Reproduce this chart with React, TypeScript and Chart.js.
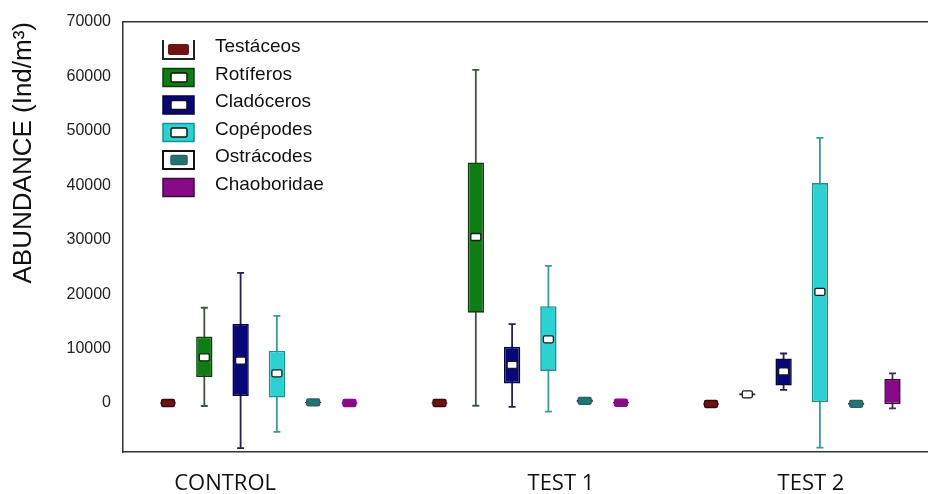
import React, { useEffect, useRef } from 'react';
import { Chart, registerables } from 'chart.js';

Chart.register(...registerables);

// ---------- data ----------
const GROUPS = ['CONTROL', 'TEST 1', 'TEST 2'];
const SERIES = ['Testáceos', 'Rotíferos', 'Cladóceros', 'Copépodes', 'Ostrácodes', 'Chaoboridae'];

// each row: [min, q1, median, q3, max] for CONTROL, TEST 1, TEST 2
const TESTACEOS = [[-300, -150, 0, 150, 300], [-300, -150, 0, 150, 300], [-450, -320, -180, -60, 80]];
const ROTIFEROS = [[-550, 4800, 8400, 12200, 17500], [-500, 16600, 30500, 44200, 61200], [1100, 1400, 1600, 1800, 2100]];
const CLADOCEROS = [[-8300, 1300, 7800, 14500, 23900], [-700, 3600, 7000, 10350, 14500], [2400, 3200, 5800, 8200, 9100]];
const COPEPODES = [[-5300, 1000, 5450, 9600, 16000], [-1600, 5900, 11700, 17800, 25200], [-8200, 150, 20400, 40400, 48700]];
const OSTRACODES = [[-200, -50, 100, 250, 400], [-100, 150, 400, 650, 900], [-450, -300, -150, 0, 150]];
const CHAOBORIDAE = [[-300, -150, 0, 150, 300], [-250, -100, 50, 200, 350], [-1000, -200, 1500, 4400, 5450]];
const STATS = [TESTACEOS, ROTIFEROS, CLADOCEROS, COPEPODES, OSTRACODES, CHAOBORIDAE];

const Y_MIN = -9000;
const Y_MAX = 70000;
const Y_TICKS = [0, 10000, 20000, 30000, 40000, 50000, 60000, 70000];
const Y_TITLE = 'ABUNDANCE (Ind/m³)';

// ---------- layout / style ----------
const LABEL_POS = [-0.124, 1.113, 2.034];
const BOX_FILL = ['#ffffff', '#0d7d14', '#07077a', '#2cd2d2', '#ffffff', '#870a87'];
const BOX_EDGE = ['#2a2a2a', '#123d14', '#05053d', '#1c8f8f', '#222222', '#3d0a3d'];
const WHISKER = ['#3a2a2a', '#3e553e', '#23234d', '#3a9b9b', '#2a4a4a', '#4a2a4a'];
const MEDIAN_FILL = ['#6e1214', '#ffffff', '#ffffff', '#ffffff', '#1f7474', '#870a87'];
const MEDIAN_EDGE = ['#3a0a0a', '#1a1a1a', '#1a1a1a', '#1a1a1a', '#2f5f5f', '#870a87'];
const MEDIAN_W = [13, 10, 10, 10, 13, 13];
const MEDIAN_H = 7;
const SANS = '"Liberation Sans", Arial, sans-serif';

const whiskerPlugin = {
  id: 'boxWhiskers',
  beforeDatasetsDraw(chart: any) {
    const ctx = chart.ctx;
    const ys = chart.scales.y;
    chart.data.datasets.forEach((_ds: any, i: number) => {
      const meta = chart.getDatasetMeta(i);
      meta.data.forEach((bar: any, j: number) => {
        const st = STATS[i][j];
        const x = bar.x;
        const y0 = ys.getPixelForValue(st[0]);
        const y1 = ys.getPixelForValue(st[4]);
        ctx.save();
        ctx.strokeStyle = WHISKER[i];
        ctx.lineWidth = 1.8;
        ctx.beginPath();
        ctx.moveTo(x, y0);
        ctx.lineTo(x, y1);
        ctx.moveTo(x - 3.5, y0);
        ctx.lineTo(x + 3.5, y0);
        ctx.moveTo(x - 3.5, y1);
        ctx.lineTo(x + 3.5, y1);
        ctx.stroke();
        ctx.restore();
      });
    });
  },
  afterDatasetsDraw(chart: any) {
    const ctx = chart.ctx;
    const ys = chart.scales.y;
    chart.data.datasets.forEach((_ds: any, i: number) => {
      const meta = chart.getDatasetMeta(i);
      meta.data.forEach((bar: any, j: number) => {
        const st = STATS[i][j];
        const x = bar.x;
        const ym = ys.getPixelForValue(st[2]);
        const w = MEDIAN_W[i];
        ctx.save();
        ctx.fillStyle = MEDIAN_FILL[i];
        ctx.strokeStyle = MEDIAN_EDGE[i];
        ctx.lineWidth = 1.3;
        ctx.beginPath();
        ctx.roundRect(x - w / 2, ym - MEDIAN_H / 2, w, MEDIAN_H, 1.5);
        ctx.fill();
        ctx.stroke();
        ctx.restore();
      });
    });
  },
};

const legendPlugin = {
  id: 'boxLegend',
  afterDraw(chart: any) {
    const { ctx, chartArea } = chart;
    const x0 = chartArea.left + 39;
    const yStart = chartArea.top + 28;
    const pitch = 27.5;
    const w = 33;
    const h = 20;
    chart.data.datasets.forEach((ds: any, i: number) => {
      const cy = yStart + i * pitch;
      const top = cy - h / 2;
      ctx.save();
      if (i === 0) {
        ctx.strokeStyle = '#222';
        ctx.lineWidth = 2;
        ctx.beginPath();
        ctx.moveTo(x0 + 1, top);
        ctx.lineTo(x0 + 1, top + h - 1);
        ctx.lineTo(x0 + w - 1, top + h - 1);
        ctx.lineTo(x0 + w - 1, top);
        ctx.stroke();
        ctx.fillStyle = MEDIAN_FILL[0];
        ctx.beginPath();
        ctx.roundRect(x0 + 6, top + 4, 21, 11, 2);
        ctx.fill();
      } else {
        ctx.fillStyle = BOX_FILL[i];
        ctx.strokeStyle = i === 4 ? '#111' : BOX_EDGE[i];
        ctx.lineWidth = i === 4 ? 2 : 1.5;
        ctx.beginPath();
        ctx.rect(x0 + 1, top + 1, w - 2, h - 2);
        ctx.fill();
        ctx.stroke();
        if (i !== 5) {
          ctx.fillStyle = MEDIAN_FILL[i];
          ctx.strokeStyle = i === 4 ? '#2f5f5f' : '#111';
          ctx.lineWidth = 1.5;
          ctx.beginPath();
          ctx.roundRect(x0 + 9, cy - 4.5, 16, 9, 1.5);
          ctx.fill();
          ctx.stroke();
        }
      }
      ctx.fillStyle = '#111';
      ctx.font = '19px ' + SANS;
      ctx.textAlign = 'left';
      ctx.textBaseline = 'middle';
      ctx.fillText(ds.label, chartArea.left + 92, cy - 3);
      ctx.restore();
    });
  },
};

export default function App() {
  const ref = useRef<HTMLCanvasElement | null>(null);

  useEffect(() => {
    if (!ref.current) return;
    const chart = new Chart(ref.current, {
      type: 'bar',
      data: {
        labels: GROUPS,
        datasets: SERIES.map((name, i) => ({
          label: name,
          xAxisID: 'x',
          yAxisID: 'y',
          data: STATS[i].map((s) => [s[1], s[3]]),
          backgroundColor: BOX_FILL[i],
          borderColor: BOX_EDGE[i],
          borderWidth: 1.6,
          borderSkipped: false,
          categoryPercentage: 0.802,
          barPercentage: 0.45,
        })) as any,
      },
      options: {
        responsive: false,
        animation: false,
        devicePixelRatio: 1,
        events: [],
        layout: { padding: { top: 22, right: 2.5, left: 0, bottom: 0 } },
        plugins: {
          legend: { display: false },
          tooltip: { enabled: false },
        },
        scales: {
          x: {
            type: 'category',
            position: 'top',
            offset: true,
            ticks: { display: false },
            grid: { display: false, drawTicks: false },
            border: { display: true, color: '#333', width: 1.5 },
          },
          xl: {
            type: 'linear',
            axis: 'x',
            position: 'bottom',
            offset: false,
            min: -0.5,
            max: 2.5,
            afterBuildTicks: (s: any) => {
              s.ticks = LABEL_POS.map((v) => ({ value: v }));
            },
            afterFit: (s: any) => {
              s.height = 42;
            },
            ticks: {
              autoSkip: false,
              maxRotation: 0,
              padding: 19,
              color: '#111',
              font: { family: '"Open Sans", sans-serif', size: 22 },
              callback: (_v: any, i: number) => GROUPS[i],
            },
            grid: { display: false, drawTicks: false, offset: false },
            border: { display: true, color: '#333', width: 1.5 },
          },
          y: {
            position: 'left',
            min: Y_MIN,
            max: Y_MAX,
            afterBuildTicks: (s: any) => {
              s.ticks = Y_TICKS.map((v) => ({ value: v }));
            },
            afterFit: (s: any) => {
              s.width = 123;
            },
            ticks: {
              padding: 12,
              color: '#222',
              font: { family: SANS, size: 16 },
              callback: (v: any) => String(v),
            },
            grid: { display: false, drawTicks: false },
            border: { display: true, color: '#333', width: 1.5 },
            title: {
              display: true,
              text: Y_TITLE,
              align: 'end',
              color: '#111',
              font: { family: SANS, size: 26 },
              padding: { top: 8, bottom: 0 },
            },
          },
        } as any,
      },
      plugins: [whiskerPlugin, legendPlugin],
    });
    return () => chart.destroy();
  }, []);

  return (
    <div
      style={{
        position: 'fixed',
        left: 0,
        top: 0,
        width: 928,
        height: 494,
        overflow: 'hidden',
        background: '#fff',
      }}
    >
      <canvas ref={ref} width={940} height={494} style={{ display: 'block' }} />
    </div>
  );
}
